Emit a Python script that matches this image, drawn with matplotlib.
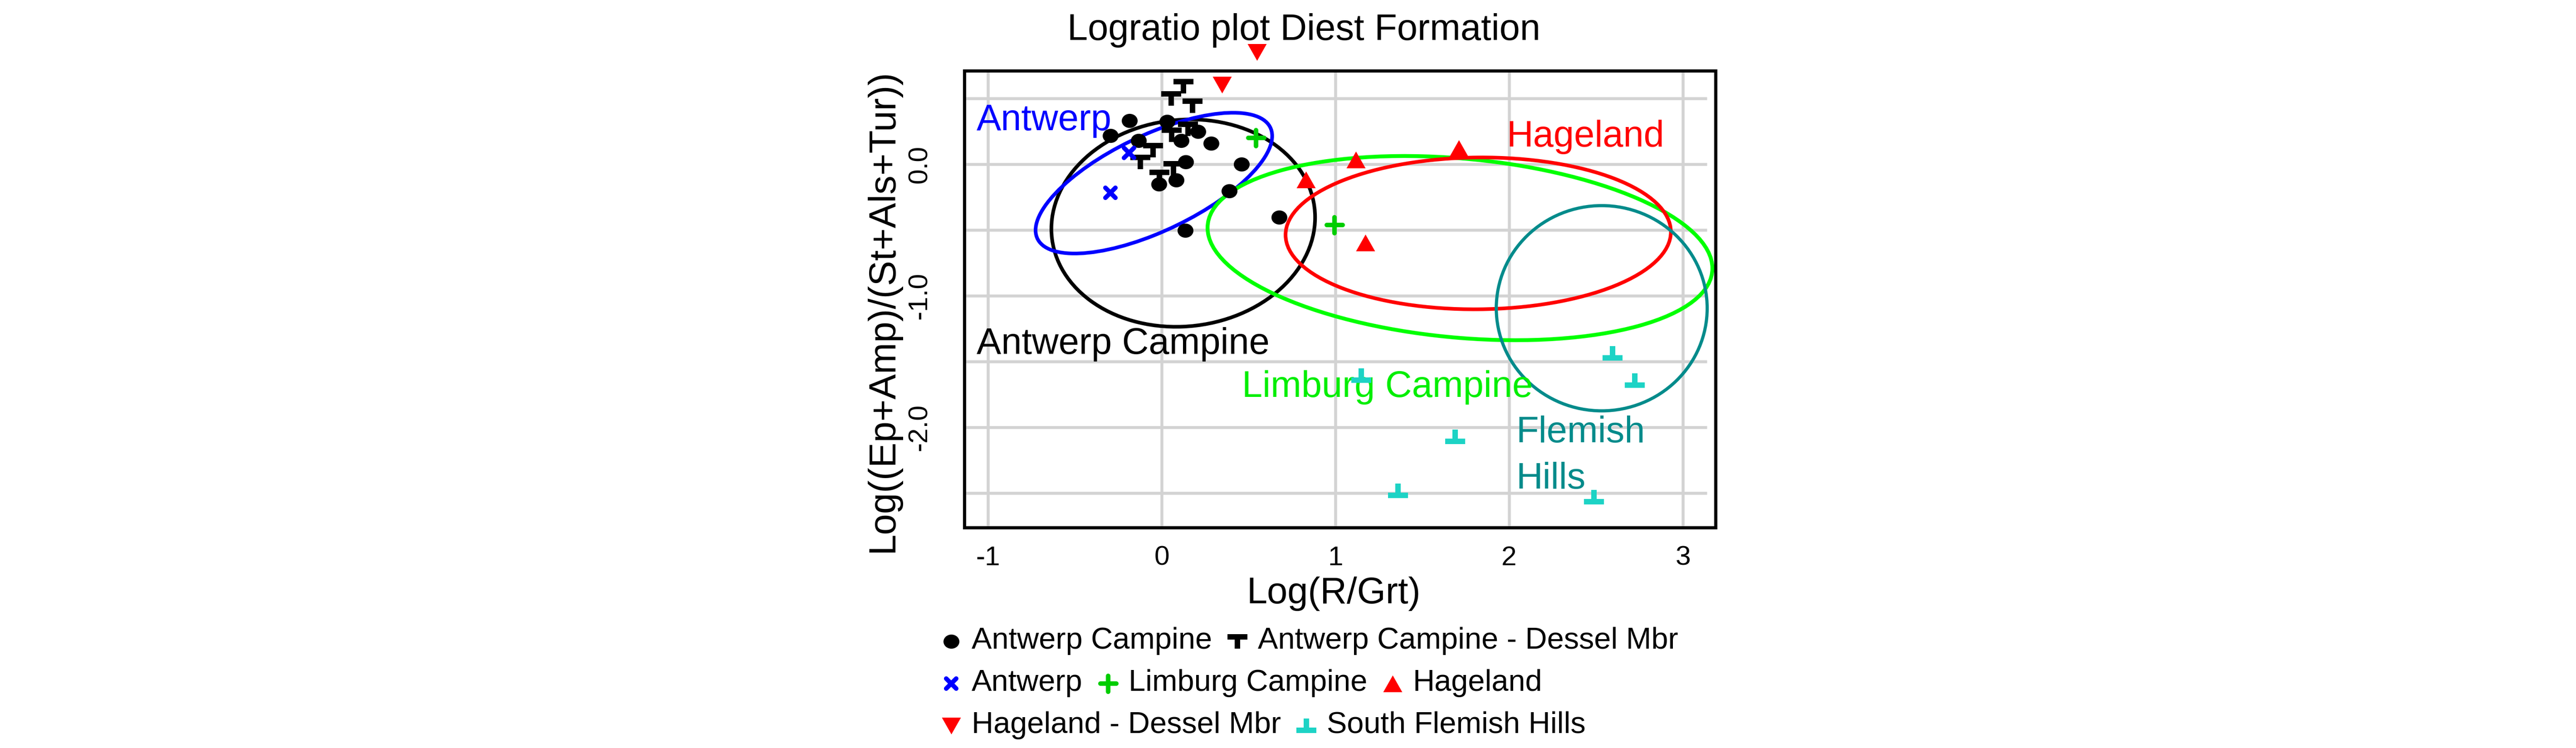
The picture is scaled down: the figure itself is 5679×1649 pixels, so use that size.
import matplotlib
matplotlib.use('Agg')
import matplotlib.pyplot as plt
from matplotlib.path import Path
from matplotlib.patches import Circle
from matplotlib.markers import MarkerStyle
from matplotlib.transforms import Affine2D
import numpy as np

plt.rcParams['font.family'] = ['Liberation Sans', 'DejaVu Sans']

# ---------------- data ----------------
title = "Logratio plot Diest Formation"
xlabel = "Log(R/Grt)"
ylabel = "Log((Ep+Amp)/(St+Als+Tur))"

xtick_vals = [-1, 0, 1, 2, 3]
xtick_labels = ["-1", "0", "1", "2", "3"]
ytick_vals = [0.0, -1.0, -2.0]
ytick_labels = ["0.0", "-1.0", "-2.0"]
grid_x = [-1, 0, 1, 2, 3]
grid_y = [0.5, 0.0, -0.5, -1.0, -1.5, -2.0, -2.5]

series_names = ["Antwerp Campine", "Antwerp Campine - Dessel Mbr", "Antwerp",
                "Limburg Campine", "Hageland", "Hageland - Dessel Mbr",
                "South Flemish Hills"]

ac_x = [-0.186, -0.296, 0.031, -0.134, 0.208, 0.112, 0.284, 0.137, 0.459, -0.015, 0.084, 0.388, 0.675, 0.136]
ac_y = [0.331, 0.218, 0.323, 0.180, 0.249, 0.178, 0.160, 0.016, -0.001, -0.153, -0.122, -0.204, -0.404, -0.503]
acd_x = [0.124, 0.054, 0.178, 0.058, 0.150, -0.050, -0.124, 0.068, -0.013]
acd_y = [0.592, 0.500, 0.446, 0.223, 0.269, 0.108, 0.018, -0.032, -0.098]
ant_x = [-0.296, -0.188]
ant_y = [-0.219, 0.085]
lim_x = [0.544, 0.995]
lim_y = [0.199, -0.463]
hag_x = [0.829, 1.117, 1.709, 1.172]
hag_y = [-0.117, 0.033, 0.121, -0.598]
hagd_x = [0.348, 0.548]
hagd_y = [0.603, 0.852]
sfh_x = [2.594, 2.724, 1.148, 1.688, 1.360, 2.488]
sfh_y = [-1.438, -1.646, -1.607, -2.073, -2.484, -2.530]

# ellipses: centre, half-extent in x and y, correlation
ell_names = ["Antwerp Campine", "Antwerp", "Limburg Campine", "Hageland", "Flemish Hills"]
ell_cx = [0.124, -0.045, 1.717, 1.822, 2.533]
ell_cy = [-0.448, -0.144, -0.638, -0.526, -1.095]
ell_sx = [0.759, 0.681, 1.453, 1.109, 0.607]
ell_sy = [0.788, 0.535, 0.700, 0.577, 0.780]
ell_rho = [0.055, 0.669, -0.22, 0.02, 0.0]

# group labels written in the plot
ann_texts = ["Antwerp", "Hageland", "Antwerp Campine", "Limburg Campine", "Flemish", "Hills"]
ann_x = [-1.066, 1.985, -1.066, 0.463, 2.039, 2.039]
ann_y = [0.260, 0.133, -1.442, -1.769, -2.113, -2.464]

legend_rows = [["Antwerp Campine", "Antwerp Campine - Dessel Mbr"],
               ["Antwerp", "Limburg Campine", "Hageland"],
               ["Hageland - Dessel Mbr", "South Flemish Hills"]]

# ---------------- styles ----------------
W, H, DPI = 5679, 1649, 300
PT = 72.0 / DPI  # points per pixel

def poly_marker(verts):
    return Path(verts + [verts[0]], [Path.MOVETO] + [Path.LINETO] * (len(verts) - 1) + [Path.CLOSEPOLY])

T_verts = [(-0.5, 0.372), (0.5, 0.372), (0.5, 0.082), (0.145, 0.082), (0.145, -0.372),
           (-0.145, -0.372), (-0.145, 0.082), (-0.5, 0.082)]
T_up = poly_marker(T_verts)
T_down = poly_marker([(x, -y) for x, y in T_verts])
tri_up = poly_marker([(-0.5, -0.44), (0.5, -0.44), (0.0, 0.44)])
tri_down = poly_marker([(-0.5, 0.44), (0.5, 0.44), (0.0, -0.44)])
_uc = Path.unit_circle()
dot = Path(_uc.vertices * np.array([0.5, 0.445]), _uc.codes)
cross_x = MarkerStyle('x', capstyle='round')
cross_p = MarkerStyle('+', capstyle='round')

cyan_pts = '#1DD3C5'
styles = {
    "Antwerp Campine": dict(marker=dot, ms=35 * PT, mfc='black', mec='black', mew=0),
    "Antwerp Campine - Dessel Mbr": dict(marker=T_up, ms=44 * PT, mfc='black', mec='black', mew=0),
    "Antwerp": dict(marker=cross_x, ms=23 * PT, mfc='#0000FF', mec='#0000FF', mew=10 * PT),
    "Limburg Campine": dict(marker=cross_p, ms=35 * PT, mfc='#00CD00', mec='#00CD00', mew=10 * PT),
    "Hageland": dict(marker=tri_up, ms=42 * PT, mfc='#FF0000', mec='#FF0000', mew=0),
    "Hageland - Dessel Mbr": dict(marker=tri_down, ms=42 * PT, mfc='#FF0000', mec='#FF0000', mew=0),
    "South Flemish Hills": dict(marker=T_down, ms=44 * PT, mfc=cyan_pts, mec=cyan_pts, mew=0),
}
series_xy = {
    "Antwerp Campine": (ac_x, ac_y),
    "Antwerp Campine - Dessel Mbr": (acd_x, acd_y),
    "Antwerp": (ant_x, ant_y),
    "Limburg Campine": (lim_x, lim_y),
    "Hageland": (hag_x, hag_y),
    "Hageland - Dessel Mbr": (hagd_x, hagd_y),
    "South Flemish Hills": (sfh_x, sfh_y),
}
ell_colors = ['black', '#0000FF', '#00FF00', '#FF0000', '#008B8B']
ell_lw = [8 * PT, 8 * PT, 8.5 * PT, 8 * PT, 7 * PT]
ann_colors = ['#0000FF', '#FF0000', 'black', '#00EE00', '#008B8B', '#008B8B']

XLIM = (-1.136, 3.188)
YLIM = (-2.762, 0.710)
GRID_X_END = 3.138

# ---------------- figure ----------------
fig = plt.figure(figsize=(W / DPI, H / DPI), dpi=DPI)
ax_l, ax_r, ax_t, ax_b = 2126, 3782, 156, 1163
ax = fig.add_axes([ax_l / W, 1 - ax_b / H, (ax_r - ax_l) / W, (ax_b - ax_t) / H])
ax.set_xlim(*XLIM)
ax.set_ylim(*YLIM)

for s in ax.spines.values():
    s.set_linewidth(7 * PT)
    s.set_color('black')
    s.set_zorder(5)
    s.set_capstyle('projecting')

ax.vlines(grid_x, YLIM[0], YLIM[1], colors='#D3D3D3', linewidth=6.5 * PT, zorder=0.5)
ax.hlines(grid_y, XLIM[0], GRID_X_END, colors='#D3D3D3', linewidth=6.5 * PT, zorder=0.5)

for cx, cy, sx, sy, r, c, lw in zip(ell_cx, ell_cy, ell_sx, ell_sy, ell_rho, ell_colors, ell_lw):
    m = np.array([[sx, 0.0, cx], [sy * r, sy * np.sqrt(1 - r * r), cy], [0, 0, 1]])
    circ = Circle((0, 0), 1.0, fill=False, edgecolor=c, linewidth=lw, zorder=2)
    circ.set_transform(Affine2D(m) + ax.transData)
    ax.add_patch(circ)

for t, x, y, c in zip(ann_texts, ann_x, ann_y, ann_colors):
    ax.text(x, y, t, color=c, fontsize=19.5, ha='left', va='baseline', zorder=2.5)

for name in series_names:
    xs, ys = series_xy[name]
    ax.plot(xs, ys, linestyle='none', clip_on=False, zorder=3, **styles[name])

ax.set_xticks(xtick_vals, labels=xtick_labels)
ax.set_yticks(ytick_vals, labels=ytick_labels)
ax.tick_params(axis='x', length=0, pad=9.6, labelsize=14.5)
ax.tick_params(axis='y', length=0, pad=17, labelsize=14.5)
for lab in ax.get_yticklabels():
    lab.set_rotation(90)
    lab.set_va('center')

fig.text(2874 / W, 1 - 88 / H, title, ha='center', va='baseline', fontsize=19.5)
fig.text(2940 / W, 1 - 1330 / H, xlabel, ha='center', va='baseline', fontsize=19.5)
fig.text(1985 / W, 1 - 686 / H, ylabel, rotation=90, ha='right', va='center', fontsize=20)

# ---------------- legend (flowing rows below the plot) ----------------
lax = fig.add_axes([0, 0, 1, 1])
lax.set_xlim(0, W)
lax.set_ylim(H, 0)
lax.axis('off')
lax.patch.set_visible(False)
renderer = fig.canvas.get_renderer()
row_baselines = [1430, 1523, 1616]
text_x0 = 2142
for row, base in zip(legend_rows, row_baselines):
    cursor = text_x0
    for name in row:
        lax.plot([cursor - 45], [base - 16], linestyle='none', clip_on=False, **styles[name])
        t = lax.text(cursor, base, name, fontsize=16, ha='left', va='baseline')
        bb = t.get_window_extent(renderer=renderer)
        cursor = bb.x1 + 101

fig.savefig('out.png', dpi=DPI)
